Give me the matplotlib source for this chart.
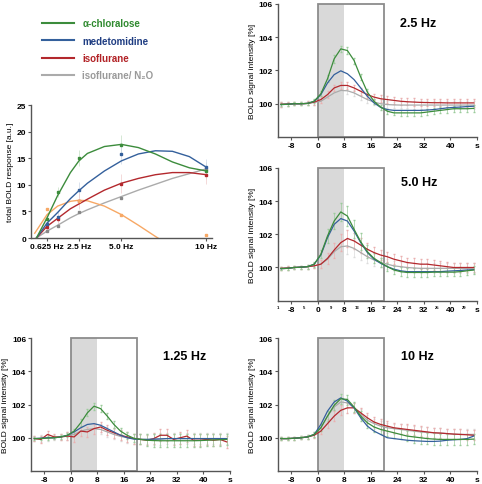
import matplotlib
matplotlib.use('Agg')
import matplotlib.pyplot as plt
from matplotlib.lines import Line2D
from matplotlib.patches import Rectangle

plt.rcParams['font.family'] = ['Liberation Sans', 'DejaVu Sans']
plt.rcParams['font.weight'] = 'bold'

GREEN = '#3c8c3c'
BLUE = '#34609c'
RED = '#b3282d'
GRAY = '#ababab'
ORANGE = '#f7a865'

# ---- total BOLD response vs stimulation frequency ----
freq_ticks = [0.625, 2.5, 5.0, 10]
freq_labels = ['0.625 Hz', '2.5 Hz', '5.0 Hz', '10 Hz']
freq_points = [0.625, 1.25, 2.5, 5.0, 10]
chl_total = [3.6, 8.6, 15.0, 17.5, 12.6]
med_total = [2.7, 4.0, 9.0, 15.8, 13.3]
iso_total = [2.1, 3.5, 7.0, 10.2, 11.8]
n2o_total = [1.3, 2.3, 4.8, 7.6, 12.9]
orange_freq = [0.625, 2.5, 5.0, 10]
orange_total = [5.4, 7.0, 4.3, 0.6]
total_err = [0.6, 0.9, 1.5, 1.8, 1.6]

# fitted curves
fit_freq = [0, 0.625, 1.25, 2, 2.5, 3, 4, 5, 6, 7, 8, 9, 10]
chl_fit = [0, 3.8, 8.0, 12.3, 14.5, 15.9, 17.2, 17.6, 17.0, 15.8, 14.3, 13.2, 12.6]
med_fit = [0, 2.8, 4.8, 7.4, 8.9, 10.3, 12.6, 14.5, 15.8, 16.4, 16.3, 15.3, 13.3]
iso_fit = [0, 2.2, 3.7, 5.5, 6.4, 7.3, 9.0, 10.3, 11.2, 11.9, 12.3, 12.3, 11.9]
n2o_fit = [0, 1.3, 2.4, 3.8, 4.6, 5.3, 6.6, 7.8, 9.0, 10.1, 11.2, 12.1, 13.0]
orange_fit_freq = [-0.1, 0.625, 1.25, 2, 2.5, 3, 4, 5, 6, 7, 7.15]
orange_fit = [0.9, 4.4, 6.0, 6.9, 7.1, 7.0, 6.0, 4.4, 2.4, 0.3, 0]

# ---- time courses ----
time_s = [-11, -9, -7, -5, -3, -1, 1, 3, 5, 7, 9, 11, 13, 15, 17, 19, 21, 23,
          25, 27, 29, 31, 33, 35, 37, 39, 41, 43, 45, 47]
time_ticks = [-8, 0, 8, 16, 24, 32, 40, 48]
time_labels = ['-8', '0', '8', '16', '24', '32', '40', 's']
frame_ticks = [-12, -4, 4, 12, 20, 28, 36, 44]
frame_labels = ['1', '5', '9', '13', '17', '21', '25', '29']

chl_25 = [99.95, 99.97, 100.0, 100.0, 100.02, 100.15, 100.6, 101.5, 102.7, 103.3, 103.2, 102.6, 101.6, 100.7, 100.15,
          99.8, 99.55, 99.45, 99.45, 99.45, 99.45, 99.45, 99.5, 99.55, 99.6, 99.65, 99.7, 99.7, 99.7, 99.72]
med_25 = [99.95, 99.97, 100.0, 100.0, 100.02, 100.15, 100.55, 101.25, 101.75, 101.98, 101.8, 101.45, 100.95, 100.45,
          100.05, 99.78, 99.65, 99.6, 99.6, 99.6, 99.6, 99.6, 99.62, 99.65, 99.7, 99.75, 99.78, 99.8, 99.83, 99.85]
iso_25 = [99.97, 99.98, 100.0, 100.0, 100.02, 100.1, 100.25, 100.55, 100.95, 101.1, 101.1, 100.95, 100.75, 100.55,
          100.4, 100.3, 100.25, 100.2, 100.15, 100.12, 100.1, 100.08, 100.07, 100.06, 100.06, 100.05, 100.05, 100.05,
          100.05, 100.05]
n2o_25 = [99.97, 99.98, 100.0, 100.0, 100.02, 100.08, 100.15, 100.4, 100.65, 100.8, 100.78, 100.65, 100.45, 100.25,
          100.1, 100.0, 99.95, 99.93, 99.92, 99.92, 99.92, 99.92, 99.92, 99.92, 99.92, 99.92, 99.92, 99.92, 99.92, 99.92]
chl_err_25 = [0.1, 0.08, 0.08, 0.08, 0.1, 0.12, 0.15, 0.2, 0.22, 0.18, 0.2, 0.18, 0.2, 0.18, 0.15, 0.15, 0.15, 0.15,
              0.18, 0.18, 0.18, 0.18, 0.18, 0.18, 0.18, 0.18, 0.18, 0.2, 0.2, 0.2]
iso_err_25 = [0.15, 0.1, 0.1, 0.1, 0.12, 0.15, 0.2, 0.2, 0.2, 0.2, 0.2, 0.2, 0.2, 0.2, 0.2, 0.2, 0.2, 0.2, 0.2, 0.2,
              0.22, 0.22, 0.22, 0.22, 0.22, 0.25, 0.25, 0.25, 0.25, 0.25]

chl_50 = [99.93, 99.95, 100.0, 100.02, 100.05, 100.2, 100.8, 101.9, 102.8, 103.35, 103.1, 102.3, 101.55, 100.95,
          100.55, 100.3, 100.05, 99.85, 99.75, 99.7, 99.7, 99.7, 99.7, 99.72, 99.72, 99.72, 99.72, 99.75, 99.8, 99.85]
med_50 = [99.93, 99.95, 100.0, 100.02, 100.05, 100.2, 100.75, 101.8, 102.6, 102.95, 102.8, 102.2, 101.5, 100.9,
          100.5, 100.25, 100.05, 99.9, 99.8, 99.75, 99.75, 99.75, 99.75, 99.75, 99.75, 99.78, 99.8, 99.82, 99.85, 99.87]
iso_50 = [99.95, 99.97, 100.0, 100.02, 100.05, 100.1, 100.2, 100.55, 101.05, 101.5, 101.75, 101.6, 101.35, 101.1,
          100.9, 100.75, 100.65, 100.5, 100.4, 100.3, 100.25, 100.2, 100.2, 100.15, 100.1, 100.05, 100.0, 100.0,
          100.0, 100.0]
n2o_50 = [99.95, 99.97, 100.0, 100.02, 100.05, 100.1, 100.2, 100.5, 100.95, 101.25, 101.3, 101.15, 100.9, 100.65,
          100.45, 100.3, 100.2, 100.1, 100.05, 100.0, 99.97, 99.95, 99.95, 99.95, 99.95, 99.95, 99.95, 99.95, 99.95,
          99.95]
chl_err_50 = [0.1, 0.1, 0.1, 0.1, 0.12, 0.15, 0.25, 0.4, 0.5, 0.55, 0.6, 0.55, 0.5, 0.4, 0.3, 0.3, 0.25, 0.25, 0.25,
              0.25, 0.25, 0.25, 0.25, 0.25, 0.25, 0.25, 0.25, 0.25, 0.25, 0.25]
iso_err_50 = [0.1, 0.1, 0.1, 0.1, 0.12, 0.15, 0.25, 0.35, 0.45, 0.5, 0.5, 0.5, 0.45, 0.4, 0.35, 0.3, 0.3, 0.3, 0.3,
              0.3, 0.3, 0.3, 0.3, 0.3, 0.3, 0.3, 0.3, 0.3, 0.3, 0.3]

chl_125 = [99.95, 99.95, 99.98, 100.0, 100.05, 100.15, 100.4, 100.9, 101.5, 101.9, 101.75, 101.3, 100.8, 100.4,
           100.15, 99.97, 99.9, 99.85, 99.83, 99.82, 99.82, 99.82, 99.82, 99.82, 99.82, 99.83, 99.85, 99.87, 99.88, 99.9]
med_125 = [99.95, 99.97, 100.0, 100.0, 100.05, 100.15, 100.35, 100.6, 100.8, 100.85, 100.75, 100.55, 100.35, 100.15,
           100.0, 99.92, 99.9, 99.9, 99.92, 99.93, 99.95, 99.95, 99.95, 99.95, 99.95, 99.95, 99.95, 99.95, 99.95, 99.95]
iso_125 = [99.95, 99.9, 100.2, 100.05, 100.05, 100.1, 100.05, 100.4, 100.35, 100.55, 100.65, 100.45, 100.3, 100.15,
           100.05, 99.95, 99.9, 99.85, 99.95, 100.15, 100.15, 99.9, 100.0, 100.1, 99.85, 99.85, 99.9, 99.85, 99.9, 99.75]
n2o_125 = [99.95, 99.97, 100.0, 100.0, 100.05, 100.12, 100.2, 100.4, 100.5, 100.55, 100.5, 100.35, 100.2, 100.08,
           100.0, 99.95, 99.92, 99.9, 99.9, 99.92, 99.95, 99.95, 99.95, 99.95, 99.95, 99.95, 99.95, 99.95, 99.95, 99.95]
chl_err_125 = [0.1, 0.1, 0.1, 0.1, 0.1, 0.12, 0.15, 0.2, 0.2, 0.22, 0.2, 0.2, 0.2, 0.2, 0.2, 0.25, 0.3, 0.35, 0.4,
               0.4, 0.4, 0.4, 0.4, 0.4, 0.4, 0.4, 0.35, 0.35, 0.35, 0.35]
iso_err_125 = [0.15, 0.2, 0.2, 0.15, 0.2, 0.25, 0.3, 0.3, 0.3, 0.3, 0.3, 0.3, 0.3, 0.3, 0.3, 0.3, 0.3, 0.3, 0.35,
               0.35, 0.35, 0.35, 0.35, 0.35, 0.35, 0.35, 0.35, 0.35, 0.35, 0.35]

chl_100 = [99.95, 99.95, 99.97, 100.0, 100.05, 100.2, 100.6, 101.3, 101.95, 102.35, 102.3, 101.85, 101.3, 100.9,
           100.65, 100.5, 100.4, 100.3, 100.2, 100.1, 100.05, 100.0, 99.95, 99.92, 99.9, 99.9, 99.9, 99.9, 99.9, 99.92]
med_100 = [99.95, 99.95, 99.97, 100.0, 100.05, 100.2, 100.8, 101.6, 102.15, 102.4, 102.2, 101.8, 101.2, 100.7,
           100.4, 100.2, 100.0, 99.95, 99.9, 99.85, 99.82, 99.8, 99.78, 99.78, 99.8, 99.85, 99.88, 99.9, 99.95, 100.1]
iso_100 = [99.95, 99.95, 99.97, 100.0, 100.05, 100.15, 100.4, 100.85, 101.3, 101.65, 101.8, 101.8, 101.5, 101.2,
           100.95, 100.8, 100.7, 100.6, 100.55, 100.5, 100.45, 100.4, 100.35, 100.3, 100.28, 100.25, 100.22, 100.2,
           100.18, 100.15]
n2o_100 = [99.95, 99.95, 99.97, 100.0, 100.05, 100.2, 100.6, 101.3, 101.85, 102.15, 102.1, 101.8, 101.4, 101.05,
           100.85, 100.7, 100.6, 100.55, 100.5, 100.45, 100.4, 100.35, 100.32, 100.3, 100.28, 100.25, 100.22, 100.2,
           100.2, 100.2]
chl_err_100 = [0.1, 0.1, 0.1, 0.1, 0.12, 0.15, 0.2, 0.3, 0.3, 0.3, 0.3, 0.3, 0.3, 0.3, 0.3, 0.3, 0.3, 0.3, 0.3, 0.3,
               0.35, 0.35, 0.35, 0.35, 0.35, 0.35, 0.35, 0.35, 0.35, 0.3]
iso_err_100 = [0.1, 0.1, 0.1, 0.1, 0.12, 0.15, 0.2, 0.25, 0.3, 0.3, 0.3, 0.3, 0.3, 0.3, 0.3, 0.3, 0.3, 0.3, 0.3,
               0.3, 0.3, 0.3, 0.3, 0.3, 0.3, 0.3, 0.3, 0.3, 0.3, 0.3]

LABEL_SIZE = 6


def style_axes(ax):
    """Only left and bottom spines, small bold ticks."""
    for side in ('top', 'right'):
        ax.spines[side].set_visible(False)
    for side in ('left', 'bottom'):
        ax.spines[side].set_color('#555555')
        ax.spines[side].set_linewidth(1.0)
    ax.tick_params(labelsize=LABEL_SIZE, length=2, width=0.8, color='#555555', pad=1.5)


def time_panel(rect, title, title_xy, chl, med, iso, n2o, chl_err, iso_err, frames=False):
    ax = fig.add_axes(rect)
    style_axes(ax)
    ax.add_patch(Rectangle((0, 98), 8, 8, facecolor='#d9d9d9', edgecolor='none', zorder=0))
    ax.add_patch(Rectangle((0, 98), 20, 8, facecolor='none', edgecolor='#8c8c8c', lw=1.3, zorder=1,
                           clip_on=False))
    ax.errorbar(time_s, n2o, yerr=iso_err, fmt='none', ecolor='#dcdcdc', elinewidth=0.5, capsize=1.0, zorder=2)
    ax.errorbar(time_s, iso, yerr=iso_err, fmt='none', ecolor='#eab0b0', elinewidth=0.5, capsize=1.0, zorder=2)
    ax.errorbar(time_s, chl, yerr=chl_err, fmt='none', ecolor='#9ccc9c', elinewidth=0.5, capsize=1.0, zorder=2)
    ax.plot(time_s, n2o, color=GRAY, lw=0.9, zorder=3)
    ax.plot(time_s, iso, color=RED, lw=0.9, zorder=4)
    ax.plot(time_s, med, color=BLUE, lw=0.9, zorder=5)
    ax.plot(time_s, chl, color=GREEN, lw=0.9, zorder=6)
    ax.set_xlim(-12, 48)
    ax.set_ylim(98, 106)
    ax.set_yticks([100, 102, 104, 106])
    ax.set_xticks(time_ticks)
    ax.set_xticklabels(time_labels)
    if frames:
        ax.set_xticks(frame_ticks, minor=True)
        ax.set_xticklabels(frame_labels, minor=True)
        ax.tick_params(which='minor', labelsize=3, length=0, pad=3)
    ax.set_ylabel('BOLD signal intensity [%]', fontsize=LABEL_SIZE, labelpad=2)
    ax.text(title_xy[0], title_xy[1], title, transform=ax.transAxes, fontsize=9,
            ha='center', va='center')
    return ax


fig = plt.figure(figsize=(4.82, 4.85), dpi=100)

# frequency dependence panel
ax0 = fig.add_axes([0.0643, 0.5072, 0.3755, 0.2742])
style_axes(ax0)
for freqs, vals, col in ((freq_points, chl_total, '#c4dec4'), (freq_points, med_total, '#ccd6e6'),
                         (freq_points, iso_total, '#f0caca')):
    ax0.errorbar(freqs, vals, yerr=total_err, fmt='none', ecolor=col, elinewidth=0.5, zorder=1)
ax0.plot(fit_freq, n2o_fit, color=GRAY, lw=1.0, zorder=2)
ax0.plot(orange_fit_freq, orange_fit, color=ORANGE, lw=1.0, zorder=2)
ax0.plot(fit_freq, iso_fit, color=RED, lw=1.0, zorder=3)
ax0.plot(fit_freq, med_fit, color=BLUE, lw=1.0, zorder=3)
ax0.plot(fit_freq, chl_fit, color=GREEN, lw=1.0, zorder=4)
ax0.plot(freq_points, n2o_total, 's', color='#888888', ms=1.5, zorder=5)
ax0.plot(freq_points, iso_total, 's', color=RED, ms=1.5, zorder=5)
ax0.plot(freq_points, med_total, 's', color=BLUE, ms=1.5, zorder=5)
ax0.plot(freq_points, chl_total, 's', color=GREEN, ms=1.5, zorder=5)
ax0.plot(orange_freq, orange_total, 's', color=ORANGE, ms=1.5, zorder=5)
ax0.set_xlim(-0.32, 10.33)
ax0.set_ylim(0, 25)
ax0.set_yticks([0, 5, 10, 15, 20, 25])
ax0.set_xticks(freq_ticks)
ax0.set_xticklabels(freq_labels)
ax0.set_ylabel('total BOLD response [a.u.]', fontsize=LABEL_SIZE, labelpad=2)

# legend
handles = [Line2D([], [], color=GREEN, lw=1.5), Line2D([], [], color=BLUE, lw=1.5),
           Line2D([], [], color=RED, lw=1.5), Line2D([], [], color=GRAY, lw=1.5)]
labels = ['\u03b1-chloralose', 'medetomidine', 'isoflurane', 'isoflurane/ N\u2082O']
leg = fig.legend(handles, labels, loc='upper left', bbox_to_anchor=(0.068, 0.978), frameon=False,
                 fontsize=7, handlelength=3.3, handletextpad=0.9, labelspacing=0.75)
for txt, col in zip(leg.get_texts(), ['#2f8a2f', '#1f3d82', '#b22226', '#9a9a9a']):
    txt.set_color(col)

time_panel([0.5761, 0.7155, 0.4135, 0.2742], '2.5 Hz', (0.704, 0.857),
           chl_25, med_25, iso_25, n2o_25, chl_err_25, iso_err_25)
time_panel([0.5761, 0.378, 0.4135, 0.2736], '5.0 Hz', (0.709, 0.894),
           chl_50, med_50, iso_50, n2o_50, chl_err_50, iso_err_50, frames=True)
time_panel([0.0643, 0.0268, 0.4129, 0.2742], '1.25 Hz', (0.774, 0.866),
           chl_125, med_125, iso_125, n2o_125, chl_err_125, iso_err_125)
time_panel([0.5761, 0.0268, 0.4135, 0.2742], '10 Hz', (0.70, 0.868),
           chl_100, med_100, iso_100, n2o_100, chl_err_100, iso_err_100)

fig.savefig('out.png', dpi=100)
